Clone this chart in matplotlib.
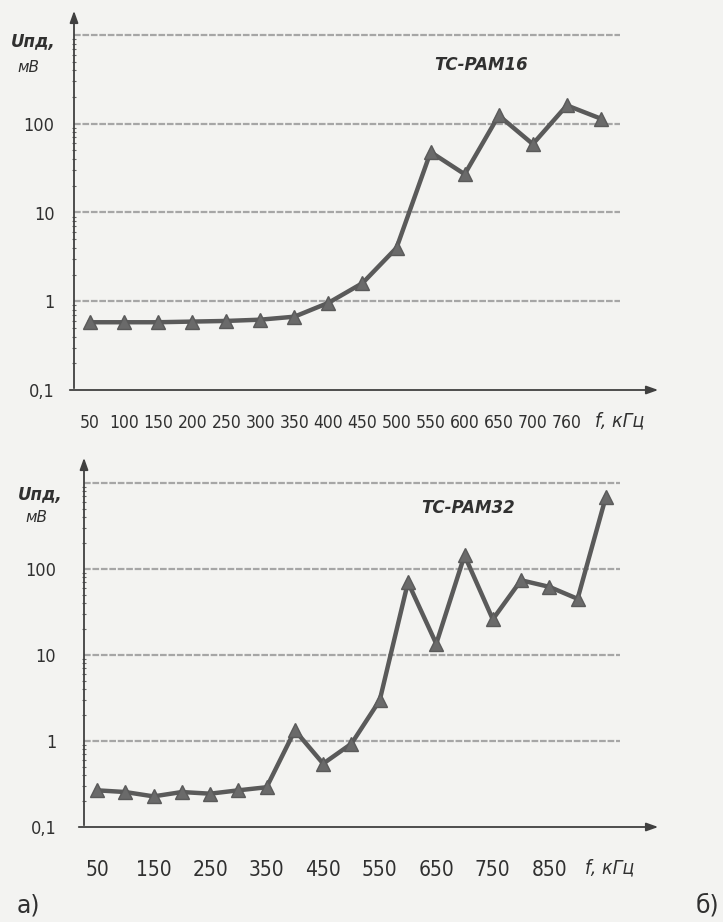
import matplotlib.pyplot as plt
from matplotlib import font_manager
from matplotlib.patches import FancyArrowPatch
from matplotlib.ticker import FixedLocator, NullFormatter, LogLocator

# TC-PAM16
freq16 = ['50', '100', '150', '200', '250', '300', '350', '400', '450', '500',
          '550', '600', '650', '700', '760', '']
u16 = [0.58, 0.58, 0.58, 0.59, 0.60, 0.62, 0.67, 0.96, 1.6, 4.0,
       48, 27, 124, 59, 161, 114]

# TC-PAM32
freq32 = ['50', '100', '150', '200', '250', '300', '350', '400', '450', '500',
          '550', '600', '650', '700', '750', '800', '850', '900', '950']
u32 = [0.267, 0.255, 0.227, 0.255, 0.244, 0.267, 0.29, 1.33, 0.545, 0.93,
       2.97, 70, 13.5, 144, 26, 74, 62, 45, 690]
shown32 = ['50', '150', '250', '350', '450', '550', '650', '750', '850']

ytick_vals = [0.1, 1, 10, 100, 1000]
ytick_text = ['0,1', '1', '10', '100', '']

W, H = 723, 922
BG = '#f3f3f1'
LINE = '#5a5a5a'
TXT = '#303030'

# pick a narrow face for the tick labels if one is installed
have = {(f.name, f.stretch) for f in font_manager.fontManager.ttflist}
names = {n for n, _ in have}
if 'Liberation Sans Narrow' in names:
    NARROW = dict(family='Liberation Sans Narrow')
elif any(n == 'DejaVu Sans' and s == 'condensed' for n, s in have):
    NARROW = dict(family='DejaVu Sans', stretch='condensed')
else:
    NARROW = dict(family='DejaVu Sans')

fig = plt.figure(figsize=(W / 100, H / 100), dpi=100, facecolor=BG)


def fpx(x, y):
    # image pixels (top-left origin) -> figure fraction
    return x / W, 1 - y / H


def arrow(x0, y0, x1, y1):
    fig.add_artist(FancyArrowPatch(
        fpx(x0, y0), fpx(x1, y1), transform=fig.transFigure,
        arrowstyle='-|>,head_length=7,head_width=2.5', color='#404040',
        lw=1.3, mutation_scale=1))


def panel(left, bottom_y, right, top_y, xlim, vals, ticks, ticklabels,
          xfont, xpad, ypad, title, title_xy):
    ax = fig.add_axes([left / W, 1 - bottom_y / H, (right - left) / W,
                       (bottom_y - top_y) / H])
    ax.set_facecolor('none')
    ax.set_yscale('log')
    ax.set_ylim(0.1, 1000)
    ax.set_xlim(*xlim)
    for v in ytick_vals[1:]:
        ax.axhline(v, color='#a6a6a6', lw=1.6, ls=(0, (3, 0.8)), zorder=1,
                   clip_on=False)
    ax.plot(range(len(vals)), vals, color=LINE, lw=3.2, marker='^',
            markersize=10, markerfacecolor='#6a6a6a', markeredgecolor=LINE,
            zorder=3, clip_on=False)
    for s in ax.spines.values():
        s.set_visible(False)
    ax.yaxis.set_major_locator(FixedLocator(ytick_vals))
    ax.set_yticklabels(ytick_text, fontsize=13, color=TXT, **NARROW)
    ax.yaxis.set_minor_locator(LogLocator(base=10, subs=range(2, 10)))
    ax.yaxis.set_minor_formatter(NullFormatter())
    ax.tick_params(axis='y', which='major', length=0, pad=ypad)
    ax.tick_params(axis='y', which='minor', length=3, width=0.8,
                   direction='inout', color='#666666')
    ax.set_xticks(ticks)
    ax.set_xticklabels(ticklabels, fontsize=xfont, color=TXT, **NARROW)
    ax.tick_params(axis='x', length=0, pad=xpad)
    fig.text(*fpx(*title_xy), title, ha='center', va='center', fontsize=12,
             fontweight='bold', fontstyle='italic', color=TXT)
    return ax


# top chart
panel(74, 390, 620, 35, (-0.47, 15.56), u16,
      list(range(15)), freq16[:15], 12.5, 17, 14, 'TC-PAM16', (481, 65))
arrow(74, 391, 74, 8)
arrow(67, 390, 661, 390)
fig.text(*fpx(33, 42), 'Uпд,', ha='center', va='center', fontsize=12,
         fontweight='bold', fontstyle='italic', color=TXT)
fig.text(*fpx(28, 67), 'мВ', ha='center', va='center', fontsize=11,
         fontstyle='italic', color=TXT)
fig.text(*fpx(620, 421), 'f, кГц', ha='center', va='center', fontsize=14,
         fontstyle='italic', color=TXT, **NARROW)

# bottom chart
pos32 = [freq32.index(t) for t in shown32]
panel(84, 827, 620, 483, (-0.46, 18.5), u32,
      pos32, shown32, 15, 24, 20, 'TC-PAM32', (468, 508))
arrow(84, 828, 84, 455)
arrow(76, 827, 661, 827)
fig.text(*fpx(40, 495), 'Uпд,', ha='center', va='center', fontsize=12,
         fontweight='bold', fontstyle='italic', color=TXT)
fig.text(*fpx(36, 518), 'мВ', ha='center', va='center', fontsize=11,
         fontstyle='italic', color=TXT)
fig.text(*fpx(610, 868), 'f, кГц', ha='center', va='center', fontsize=14,
         fontstyle='italic', color=TXT, **NARROW)

fig.text(*fpx(28, 905), 'а)', ha='center', va='center', fontsize=17,
         color=TXT)
fig.text(*fpx(719, 905), 'б)', ha='right', va='center', fontsize=17,
         color=TXT)

fig.savefig('out.png', dpi=100, facecolor=BG)
